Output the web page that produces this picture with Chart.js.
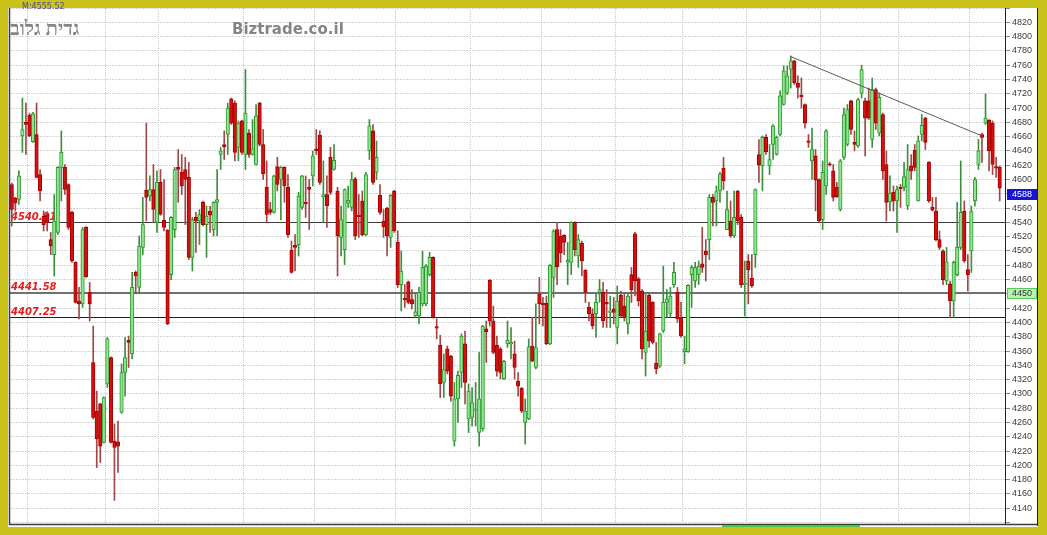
<!DOCTYPE html>
<html><head><meta charset="utf-8">
<script src="https://cdn.jsdelivr.net/npm/chart.js@4"></script>
<style>html,body{margin:0;padding:0;background:#c8c21a;overflow:hidden}canvas{display:block}</style>
</head><body><canvas id="c" width="1047" height="535"></canvas>
<script>
// ---- candle data (daily O/H/L/C) ----
const opens = [
4593,4574,4572,4661,4680,4690,4653,4663,4607,4549,4551,4516,4495,4526,4617,4617,4593,4554,4484,4430,4426,4533,4442,4344,4276,4286,4232,4314,4351,4234,4233,4274,4330,4375,4356,4470,4449,4505,4585,4577,4586,4540,4596,4543,4529,4467,4530,
4617,4610,4614,4603,4491,4547,4542,4568,4537,4556,4530,4568,4635,4649,4663,4713,4707,4645,4682,4635,4665,4635,4621,4707,4649,4589,4558,4554,4618,4600,4617,4589,4501,4508,4509,4561,4568,4589,4605,4643,4662,4576,4579,4631,4614,4584,4519,
4502,4567,4561,4601,4550,4570,4523,4640,4668,4610,4578,4542,4560,4519,4584,4512,4453,4433,4457,4432,4409,4409,4426,4426,4467,4491,4393,4368,4316,4363,4353,4234,4293,4330,4370,4265,4267,4277,4246,4251,4391,4459,4402,4368,4363,4321,4370,
4370,4356,4318,4308,4260,4265,4367,4337,4440,4426,4427,4370,4463,4530,4521,4522,4484,4484,4540,4493,4511,4473,4421,4412,4412,4442,4442,4428,4414,4419,4393,4438,4423,4398,4467,4524,4461,4444,4358,4438,4428,4343,4339,4388,4428,4412,4453,
4442,4407,4359,4359,4467,4458,4467,4482,4500,4516,4575,4570,4584,4616,4530,4542,4521,4584,4547,4453,4486,4462,4495,4635,4619,4659,4619,4649,4635,4663,4705,4721,4754,4766,4735,4717,4705,4653,4626,4633,4600,4544,4591,4622,4612,4589,4558,
4631,4649,4710,4652,4647,4721,4710,4710,4656,4726,4665,4691,4621,4569,4582,4570,4588,4589,4563,4619,4641,4570,4663,4686,4624,4561,4556,4516,4500,4458,4454,4430,4467,4505,4556,4474,4500,4570,4621,4663,4679,4683,4679,4618,4617];
const highs = [
4595,4575,4612,4714,4707,4693,4694,4707,4614,4556,4555,4526,4579,4618,4668,4621,4594,4556,4485,4449,4533,4534,4456,4395,4304,4287,4296,4379,4352,4258,4262,4342,4379,4381,4470,4472,4521,4575,4679,4605,4621,4612,4614,4600,4530,4548,4617,
4642,4635,4631,4624,4547,4554,4558,4570,4563,4563,4569,4614,4645,4668,4707,4714,4710,4682,4683,4754,4670,4684,4705,4708,4670,4626,4568,4606,4631,4618,4618,4607,4514,4523,4582,4606,4605,4600,4640,4670,4668,4626,4605,4645,4649,4589,4563,
4587,4591,4610,4603,4579,4584,4610,4684,4677,4654,4593,4558,4561,4579,4585,4528,4500,4453,4458,4446,4440,4449,4500,4481,4498,4492,4405,4382,4356,4367,4354,4316,4332,4384,4388,4314,4309,4316,4358,4396,4402,4460,4423,4381,4365,4347,4402,
4393,4374,4330,4309,4293,4377,4407,4426,4463,4435,4437,4481,4530,4540,4530,4523,4512,4541,4541,4523,4514,4474,4428,4419,4440,4460,4456,4446,4437,4435,4451,4444,4440,4440,4477,4526,4463,4446,4440,4440,4429,4372,4385,4479,4446,4449,4484,
4449,4428,4381,4453,4480,4484,4486,4533,4516,4579,4579,4591,4610,4631,4584,4570,4584,4585,4551,4486,4495,4495,4587,4656,4661,4663,4649,4677,4661,4724,4759,4759,4773,4767,4745,4742,4706,4663,4672,4642,4601,4626,4670,4624,4621,4596,4628,
4700,4705,4711,4668,4714,4760,4714,4728,4742,4728,4721,4693,4640,4605,4591,4591,4593,4624,4649,4635,4649,4661,4691,4687,4625,4575,4575,4528,4502,4505,4458,4486,4568,4626,4570,4495,4563,4603,4656,4665,4720,4684,4682,4631,4619];
const lows = [
4535,4556,4565,4638,4635,4660,4652,4602,4570,4528,4528,4495,4465,4523,4570,4579,4530,4484,4427,4405,4421,4463,4402,4265,4197,4204,4231,4309,4231,4151,4190,4273,4297,4337,4349,4440,4440,4495,4542,4570,4540,4526,4550,4528,4397,4460,4519,
4568,4579,4537,4488,4472,4498,4509,4535,4491,4526,4521,4521,4614,4628,4635,4677,4626,4626,4635,4614,4631,4634,4620,4647,4600,4540,4551,4553,4584,4544,4568,4519,4469,4472,4493,4558,4547,4530,4591,4635,4593,4540,4533,4579,4613,4465,4493,
4481,4561,4556,4516,4519,4521,4521,4628,4593,4600,4551,4519,4493,4505,4526,4449,4416,4421,4426,4419,4407,4398,4423,4423,4465,4406,4377,4295,4295,4328,4290,4227,4260,4309,4286,4246,4255,4255,4227,4248,4344,4395,4356,4325,4321,4320,4365,
4349,4321,4297,4274,4230,4264,4345,4335,4398,4395,4369,4369,4435,4453,4484,4495,4453,4467,4493,4477,4465,4428,4402,4391,4379,4428,4393,4393,4393,4398,4370,4407,4402,4384,4428,4437,4423,4349,4325,4365,4370,4328,4337,4386,4407,4407,4449,
4400,4379,4342,4358,4421,4449,4453,4470,4458,4488,4535,4535,4568,4586,4530,4519,4519,4537,4449,4409,4426,4449,4477,4596,4584,4635,4607,4628,4634,4661,4704,4719,4728,4733,4714,4700,4672,4645,4600,4556,4540,4530,4579,4619,4570,4575,4556,
4628,4647,4663,4640,4645,4714,4633,4684,4645,4670,4661,4600,4542,4556,4556,4526,4561,4584,4558,4600,4612,4570,4654,4642,4568,4556,4514,4502,4453,4453,4407,4407,4465,4502,4484,4444,4470,4563,4614,4624,4677,4612,4607,4603,4570];
const closes = [
4558,4567,4605,4670,4677,4661,4692,4603,4584,4537,4540,4507,4542,4617,4638,4586,4533,4486,4428,4426,4530,4464,4426,4267,4237,4227,4295,4377,4232,4225,4227,4330,4351,4372,4449,4465,4507,4537,4575,4586,4558,4596,4551,4533,4398,4547,4614,
4614,4591,4600,4491,4544,4542,4551,4537,4549,4550,4568,4572,4640,4646,4700,4679,4638,4679,4638,4693,4635,4643,4689,4649,4608,4551,4554,4605,4593,4617,4591,4523,4470,4505,4577,4605,4566,4586,4633,4640,4596,4579,4563,4582,4627,4521,4544,
4586,4571,4600,4521,4548,4523,4607,4675,4596,4631,4554,4534,4521,4578,4528,4453,4472,4432,4428,4426,4415,4442,4477,4479,4491,4407,4392,4314,4334,4332,4297,4293,4326,4381,4316,4304,4288,4278,4293,4395,4387,4402,4358,4332,4330,4346,4375,
4372,4337,4311,4276,4276,4366,4346,4365,4426,4425,4370,4480,4528,4478,4497,4512,4487,4540,4502,4516,4486,4442,4412,4395,4428,4446,4402,4426,4416,4414,4430,4409,4407,4437,4446,4458,4430,4363,4388,4374,4372,4335,4384,4428,4433,4437,4470,
4405,4381,4363,4452,4477,4477,4479,4477,4495,4575,4568,4583,4608,4598,4558,4521,4547,4542,4453,4454,4474,4451,4586,4620,4659,4639,4628,4675,4659,4717,4752,4745,4766,4735,4729,4716,4679,4652,4642,4599,4542,4610,4668,4620,4575,4576,4626,
4691,4698,4670,4649,4712,4754,4686,4686,4726,4679,4715,4612,4568,4581,4570,4586,4587,4604,4614,4612,4617,4654,4676,4652,4570,4557,4516,4505,4460,4485,4430,4484,4505,4554,4486,4467,4555,4600,4640,4659,4686,4640,4621,4616,4588];

// support / resistance levels drawn on the chart
const levelValues = [4540.91, 4441.58, 4407.25];
const levelLabels = ['4540.91', '4441.58', '4407.25'];
// trend line (candle index, value)
const trendIdx = [220, 274];
const trendVals = [4772, 4661];
// price tags on the axis
const lastPrice = 4588;
const markPrice = 4450;
// y axis range / ticks
const yMin = 4118, yMax = 4840, yStep = 20, yLabelMin = 4140, yLabelMax = 4820;
// vertical grid (month) boundaries, as candle indices
const monthStarts = [5, 27, 42, 66, 86, 109, 130, 150, 171, 190, 208, 229, 251, 271];

const N = opens.length;
const labels = Array.from({length: N + 1}, (_, i) => String(i + 1));
const up = opens.map((o, i) => closes[i] >= o);
const trend = labels.map((_, i) => i === trendIdx[0] ? trendVals[0] : (i === trendIdx[1] ? trendVals[1] : null));

const YELLOW = '#c8c21a';
const upFill = '#8fe48f', upBorder = '#2e982e', upWick = '#3d8f3d';
const dnFill = '#d21010', dnBorder = '#a80000', dnWick = '#a04848';

const deco = {
  id: 'deco',
  beforeDraw(chart) {
    const c = chart.ctx;
    c.save();
    c.fillStyle = YELLOW; c.fillRect(0, 0, chart.width, chart.height);
    c.fillStyle = '#ffffff'; c.fillRect(8, 8, 1030, 519);
    c.restore();
  },
  beforeDatasetsDraw(chart) {
    const {ctx, chartArea: a, scales: {y}} = chart;
    const widths = [1, 2, 1], colors = ['#3a3a3a', '#707070', '#202020'];
    ctx.save();
    levelValues.forEach((v, k) => {
      const py = Math.round(y.getPixelForValue(v)) + (widths[k] === 2 ? 0 : 0.5);
      ctx.strokeStyle = colors[k]; ctx.lineWidth = widths[k];
      ctx.beginPath(); ctx.moveTo(a.left, py); ctx.lineTo(a.right, py); ctx.stroke();
      ctx.fillStyle = '#e81c1c';
      ctx.font = 'italic bold 10px "DejaVu Sans"';
      ctx.textAlign = 'left'; ctx.textBaseline = 'alphabetic';
      ctx.fillText(levelLabels[k], a.left + 1, py - 3);
    });
    ctx.restore();
  },
  afterDraw(chart) {
    const {ctx, chartArea: a, scales: {y}} = chart;
    ctx.save();
    // frame
    ctx.strokeStyle = '#3c3c3c'; ctx.lineWidth = 1.5;
    ctx.beginPath(); ctx.moveTo(9.5, 8); ctx.lineTo(9.5, 525); ctx.stroke();
    ctx.lineWidth = 1.5;
    ctx.beginPath(); ctx.moveTo(9, a.bottom + 0.5); ctx.lineTo(1037, a.bottom + 0.5); ctx.stroke();
    ctx.lineWidth = 1; ctx.strokeStyle = '#222';
    ctx.beginPath(); ctx.moveTo(a.right + 0.5, 8); ctx.lineTo(a.right + 0.5, a.bottom); ctx.stroke();
    ctx.beginPath(); ctx.moveTo(1037.5, 8); ctx.lineTo(1037.5, 526); ctx.stroke();
    // bottom green marker
    ctx.fillStyle = '#45c845'; ctx.fillRect(722, 525, 138, 2);
    // price tags
    const tag = (v, bg, fg, border) => {
      const top = Math.round(y.getPixelForValue(v)) + 1;
      ctx.fillStyle = bg; ctx.fillRect(a.right + 2, top, 30, 11);
      if (border) { ctx.strokeStyle = border; ctx.lineWidth = 1; ctx.strokeRect(a.right + 2.5, top + 0.5, 29, 10); }
      ctx.fillStyle = fg; ctx.font = '9px "Liberation Sans"'; ctx.textAlign = 'center'; ctx.textBaseline = 'middle';
      ctx.fillText(String(v), a.right + 17, top + 6);
    };
    tag(lastPrice, '#1616d2', '#ffffff', null);
    tag(markPrice, '#b6f2b0', '#333333', '#5cc85c');
    // titles
    ctx.textBaseline = 'alphabetic'; ctx.textAlign = 'left';
    ctx.fillStyle = '#858585';
    ctx.font = 'bold 20px "Liberation Serif"';
    ctx.fillText('גדית גלוב', 10, 35);
    ctx.font = 'bold 15px "DejaVu Sans"';
    ctx.fillText('Biztrade.co.il', 232, 34);
    ctx.fillStyle = '#4a4aa8'; ctx.font = '8px "DejaVu Sans"';
    ctx.fillText('M:4555.52', 22, 9);
    ctx.restore();
  }
};

new Chart(document.getElementById('c'), {
  type: 'bar',
  data: {
    labels,
    datasets: [
      { type: 'line', label: 'trend', data: trend, borderColor: '#5a5a5a', borderWidth: 1, pointRadius: 0, spanGaps: true, order: 0 },
      { label: 'body', data: opens.map((o, i) => [o, closes[i]]),
        backgroundColor: up.map(u => u ? upFill : dnFill), borderColor: up.map(u => u ? upBorder : dnBorder),
        borderWidth: 1, borderSkipped: false, barThickness: 3.5, minBarLength: 1.5, grouped: false, order: 1 },
      { label: 'wick', data: lows.map((l, i) => [l, highs[i]]),
        backgroundColor: up.map(u => u ? upWick : dnWick), borderWidth: 0, barThickness: 1, grouped: false, order: 2 }
    ]
  },
  options: {
    responsive: false, animation: false, devicePixelRatio: 1,
    layout: { padding: { left: 10, right: 9, top: 8, bottom: 11 } },
    plugins: { legend: { display: false }, tooltip: { enabled: false } },
    scales: {
      x: {
        offset: true,
        grid: { color: ctx => monthStarts.includes(ctx.index) ? '#c4c4c4' : 'rgba(0,0,0,0)', drawTicks: false, lineWidth: 1 },
        border: { display: false, dash: [1, 1] },
        ticks: { display: false },
        afterFit: s => { s.height = 0; }
      },
      y: {
        position: 'right', min: yMin, max: yMax,
        grid: { color: '#d6d6d6', tickColor: '#8a8a8a', tickLength: 5, lineWidth: 1 },
        border: { display: false, dash: [2, 1] },
        ticks: { stepSize: yStep, includeBounds: false, autoSkip: false, padding: 2, color: '#3a3a3a',
          font: { family: 'Liberation Sans', size: 9 },
          callback: v => (v >= yLabelMin && v <= yLabelMax) ? String(v) : '' },
        afterFit: s => { s.width = 33; }
      }
    }
  },
  plugins: [deco]
});
</script></body></html>
